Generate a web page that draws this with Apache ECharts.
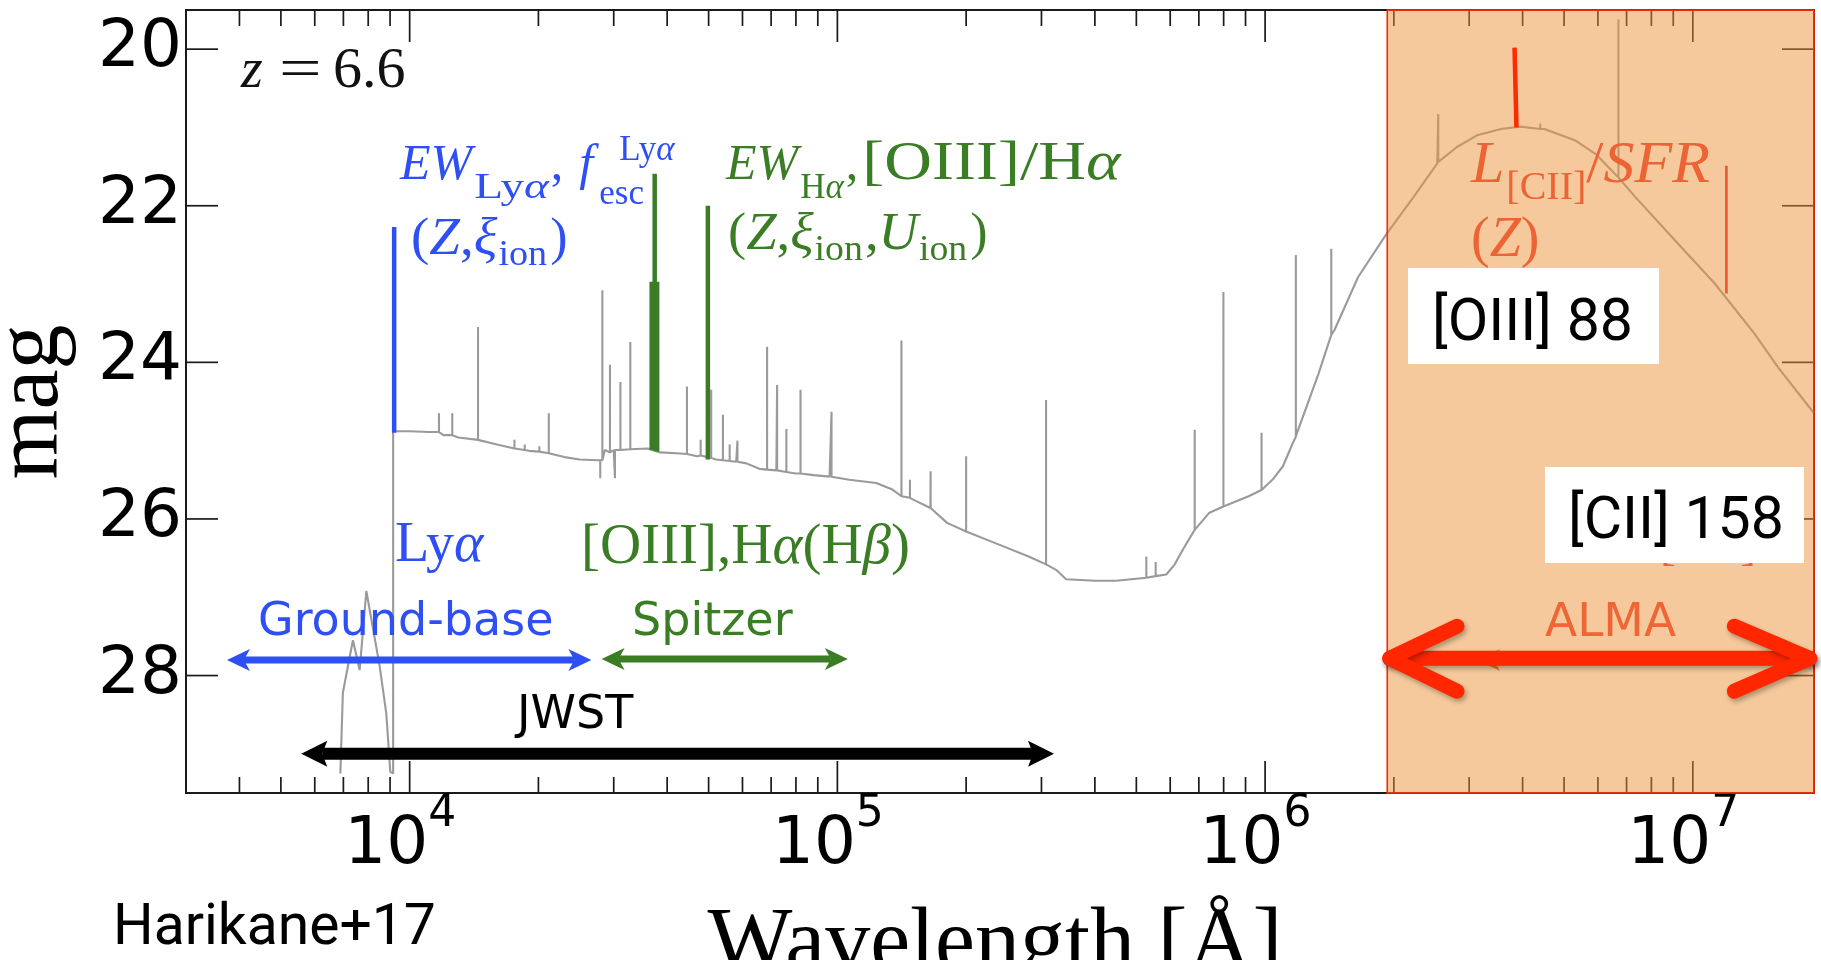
<!DOCTYPE html>
<html>
<head>
<meta charset="utf-8">
<script src="https://cdn.jsdelivr.net/npm/echarts@6/dist/echarts.min.js"></script>
<style>
html, body { margin: 0; padding: 0; background: #fff; }
#chart { width: 1821px; height: 960px; }
</style>
</head>
<body>
<div id="chart"></div>
<script>
// ---- axis ranges (wavelength in Angstrom, AB magnitude) ----
const lamMin = 3000, lamMax = 1.92e7;
const magMin = 19.5, magMax = 29.5;
const xMajorTicks = [1e4, 1e5, 1e6, 1e7];
const xMinorTicks = [4e3, 5e3, 6e3, 7e3, 8e3, 9e3,
  2e4, 3e4, 4e4, 5e4, 6e4, 7e4, 8e4, 9e4,
  2e5, 3e5, 4e5, 5e5, 6e5, 7e5, 8e5, 9e5,
  2e6, 3e6, 4e6, 5e6, 6e6, 7e6, 8e6, 9e6];
const yTicks = [20, 22, 24, 26, 28];

// ---- model SED at z = 6.6: continuum ----
const contLam = [6887, 6980, 7368, 7640, 7920, 8510, 8820, 9010, 9150, 9150,
  9200, 10000, 11100, 12000, 13000, 14450, 16000, 17580, 19000, 21150, 23000, 24970, 27500,
  28600, 30000, 33000, 36000, 38500, 42000, 47000, 52000, 58000, 61300, 65700, 72000, 80000,
  88000, 95900, 106600, 123300, 134000, 141200, 150000, 165000, 180500, 200000, 244500, 280000,
  307500, 324600, 342600, 400000, 448800, 527600, 587500, 615000, 642500, 684500, 741000,
  799000, 915000, 981000, 1040000, 1100000, 1161000, 1186000, 1334000, 1452000, 1650000,
  1923000, 2223000, 2527000, 2810000, 3128000, 3560000, 3950000, 4500000, 5330000, 5930000,
  6700000, 7340000, 9080000, 1.124e7, 1.21e7, 1.392e7, 1.581e7, 1.92e7];
const contMag = [29.25, 28.22, 27.55, 27.93, 26.92, 27.88, 28.49, 29.23, 29.25, 24.88,
  24.88, 24.88, 24.89, 24.93, 24.96, 24.99, 25.05, 25.10, 25.13, 25.16, 25.21, 25.24, 25.25,
  25.12, 25.12, 25.10, 25.10, 25.15, 25.16, 25.20, 25.24, 25.27, 25.29, 25.36, 25.38, 25.42,
  25.44, 25.46, 25.50, 25.54, 25.62, 25.71, 25.75, 25.86, 26.05, 26.16, 26.35, 26.48,
  26.58, 26.65, 26.77, 26.79, 26.79, 26.75, 26.71, 26.58, 26.39, 26.14, 25.92,
  25.84, 25.71, 25.63, 25.50, 25.33, 25.03, 24.91, 24.14, 23.59, 22.91,
  22.36, 21.89, 21.46, 21.25, 21.10, 21.02, 20.99, 21.02, 21.17, 21.34,
  21.64, 21.89, 22.44, 22.99, 23.21, 23.63, 24.06, 24.65];

// ---- nebular emission lines on top of the continuum ----
const lineLam = [11710, 12580, 14450, 17580, 18580, 20100, 21150, 27900, 28220, 29400, 30200,
  31100, 32800, 44500, 47900, 50700, 54000, 56000, 58400, 68500, 72300, 76000, 82000, 96900,
  141200, 147800, 165200, 200000, 307500, 527600, 554900, 684500, 799000, 981000, 1180000,
  1428000, 2540000, 4400000, 6700000];
const lineBase = [24.89, 24.93, 24.99, 25.10, 25.12, 25.14, 25.16, 25.25, 25.25, 25.15, 25.12,
  25.12, 25.11, 25.17, 25.19, 25.22, 25.25, 25.26, 25.27, 25.37, 25.38, 25.40, 25.42, 25.46,
  25.71, 25.73, 25.86, 26.16, 26.58, 26.75, 26.73, 26.14, 25.84, 25.63, 24.95,
  23.65, 21.44, 21.02, 21.64];
const lineTop = [24.65, 24.65, 23.55, 24.99, 25.05, 25.07, 24.65, 25.48, 23.08, 24.03, 25.48,
  24.25, 23.74, 24.31, 24.99, 24.35, 24.67, 25.05, 25.00, 23.80, 24.29, 24.85, 24.35, 24.63,
  23.72, 25.50, 25.39, 25.20, 24.48, 26.48, 26.55, 24.86, 23.10, 24.90, 22.63,
  22.55, 20.83, 20.95, 19.62];

// ---- highlighted lines ----
const lyaLam = [9200], lyaTop = [22.27], lyaBottom = [24.90];
const optLam = [36800, 37400, 37900, 49800];
const optTop = [22.97, 21.59, 22.97, 22.00];
const optBottom = [25.12, 25.13, 25.14, 25.24];
const oiii52Lam = [3.83e6], oiii52LamEnd = [3.87e6], oiii52Top = [19.98], oiii52Bottom = [21.00];
const ciiLam = [1.198e7], ciiTop = [21.49], ciiBottom = [23.12];

// ---- wavelength coverage of facilities ----
const groundRange = [3740, 26600], groundMag = 27.80;
const spitzerRange = [28100, 105800], spitzerMag = 27.79;
const jwstRange = [5580, 321000], jwstMag = 29.00;
const almaThinRange = [3.13e6, 1.92e7], almaThinMag = 27.80;
const almaBand = [1.93e6, 1.92e7];
const almaArrow = [1.956e6, 1.877e7], almaArrowMag = 27.78;
const almaArms = [2.81e6, 1.25e7], almaArmMags = [27.37, 28.20];

// ---- colours ----
const BLUE = '#2d4ff4', GREEN = '#3a7d24', ORANGE = '#ec6436', RED = '#ff2a00', GRAY = '#9a9a9a';

function buildSpectrum() {
  const items = [];
  contLam.forEach((l, i) => items.push({ l, k: 0, pts: [[l, contMag[i]]], i }));
  lineLam.forEach((l, i) => items.push({ l, k: 1, pts: [[l, lineBase[i]], [l, lineTop[i]], [l, lineBase[i]]], i }));
  items.sort((a, b) => a.l - b.l || a.k - b.k || a.i - b.i);
  return items.flatMap(it => it.pts);
}

function segmentSeries(lam1, mag1, lam2, mag2, color, width, z) {
  return {
    type: 'custom', z, silent: true, animation: false,
    data: lam1.map((l, i) => [l, mag1[i], lam2[i], mag2[i]]),
    encode: { x: [0, 2], y: [1, 3] },
    renderItem(params, api) {
      const a = api.coord([api.value(0), api.value(1)]);
      const b = api.coord([api.value(2), api.value(3)]);
      return { type: 'line', shape: { x1: a[0], y1: a[1], x2: b[0], y2: b[1] },
        style: { stroke: color, lineWidth: width, lineCap: 'butt' } };
    }
  };
}

function arrowSeries(range, mag, color, shaftW, headL, headW, notch, z) {
  return {
    type: 'custom', z, silent: true, animation: false,
    data: [[range[0], range[1], mag]],
    encode: { x: [0, 1], y: 2 },
    renderItem(params, api) {
      const a = api.coord([api.value(0), api.value(2)]);
      const b = api.coord([api.value(1), api.value(2)]);
      const y = a[1];
      return { type: 'group', children: [
        { type: 'line', shape: { x1: a[0] + headL - notch, y1: y, x2: b[0] - headL + notch, y2: y },
          style: { stroke: color, lineWidth: shaftW } },
        { type: 'polygon', shape: { points: [[a[0], y], [a[0] + headL, y - headW], [a[0] + headL - notch, y], [a[0] + headL, y + headW]] },
          style: { fill: color } },
        { type: 'polygon', shape: { points: [[b[0], y], [b[0] - headL, y - headW], [b[0] - headL + notch, y], [b[0] - headL, y + headW]] },
          style: { fill: color } }
      ] };
    }
  };
}

function tickSeries(values, len, isX) {
  return {
    type: 'custom', z: 1, silent: true, animation: false,
    data: values.map(v => isX ? [v, magMax] : [lamMin, v]),
    encode: { x: 0, y: 1 },
    renderItem(params, api) {
      const st = { stroke: '#1a1a1a', lineWidth: 1.7 };
      if (isX) {
        const b = api.coord([api.value(0), magMax]);
        const t = api.coord([api.value(0), magMin]);
        return { type: 'group', children: [
          { type: 'line', shape: { x1: b[0], y1: b[1], x2: b[0], y2: b[1] - len }, style: st },
          { type: 'line', shape: { x1: t[0], y1: t[1], x2: t[0], y2: t[1] + len }, style: st }
        ] };
      }
      const l = api.coord([lamMin, api.value(1)]);
      const r = api.coord([lamMax, api.value(1)]);
      return { type: 'group', children: [
        { type: 'line', shape: { x1: l[0], y1: l[1], x2: l[0] + len, y2: l[1] }, style: st },
        { type: 'line', shape: { x1: r[0], y1: r[1], x2: r[0] - len, y2: r[1] }, style: st }
      ] };
    }
  };
}

// ---- text helpers ----
const mctx = document.createElement('canvas').getContext('2d');
function measure(t, size, family, italic) {
  mctx.font = (italic ? 'italic ' : '') + size + 'px "' + family + '"';
  return mctx.measureText(t).width;
}
// runs of mixed roman/italic pieces with sub/superscripts, laid out from a baseline
function mathText(x0, base, color, parts, family, z) {
  family = family || 'Liberation Serif';
  const els = [];
  let cur = x0, prevStart = x0;
  parts.forEach(p => {
    const size = p.size, dy = p.dy || 0, sx = p.sx || 1;
    const start = p.stack ? prevStart + (p.gap || 0) : (p.at !== undefined ? p.at : cur + (p.gap || 0));
    let w = 0, txt = '';
    p.s.forEach(([t, it]) => { w += measure(t, size, family, it); txt += '{' + (it ? 'i' : 'n') + '|' + t + '}'; });
    const common = { fontSize: size, fontFamily: family, fill: color };
    els.push({ type: 'text', x: start, y: base + dy - 0.305 * size, z: z || 30, silent: true,
      scaleX: sx, originX: 0,
      style: { text: txt, align: 'left', verticalAlign: 'middle',
        rich: { n: Object.assign({ fontStyle: 'normal' }, common), i: Object.assign({ fontStyle: 'italic' }, common) } } });
    const end = start + w * sx;
    cur = p.stack ? Math.max(cur, end) : end;
    if (!p.stack) prevStart = start;
  });
  return els;
}
function plainText(text, x, y, size, family, color, opts) {
  opts = opts || {};
  return { type: 'text', x, y, z: opts.z || 30, silent: true, rotation: opts.rotation || 0,
    style: { text, fontSize: size, fontFamily: family, fill: color, fontStyle: opts.italic ? 'italic' : 'normal',
      align: opts.align || 'left', verticalAlign: 'middle' } };
}

const graphics = [].concat(
  mathText(241, 89, '#111', [
    { s: [['z', 1]], size: 56 },
    { s: [['=', 0]], size: 56, at: 279, sx: 1.35 },
    { s: [['6.6', 0]], size: 58, at: 333 }
  ]),
  mathText(400, 181, BLUE, [
    { s: [['EW', 1]], size: 50 },
    { s: [['Ly', 0], ['α', 1]], size: 35, dy: 18, gap: 2, sx: 1.35 },
    { s: [[',', 0]], size: 50, gap: 2 },
    { s: [['f', 1]], size: 50, gap: 16 },
    { s: [['esc', 0]], size: 35, dy: 24, gap: 6 },
    { s: [['Ly', 0], ['α', 1]], size: 35, dy: -20, stack: true, gap: 20 }
  ]),
  mathText(411, 256, BLUE, [
    { s: [['(', 0], ['Z', 1], [',', 0], ['ξ', 1]], size: 52, sx: 1.06 },
    { s: [['ion', 0]], size: 36, dy: 11, gap: 1, sx: 1.06 },
    { s: [[')', 0]], size: 52, gap: 3 }
  ]),
  mathText(726, 181, GREEN, [
    { s: [['EW', 1]], size: 50 },
    { s: [['H', 0], ['α', 1]], size: 35, dy: 18, gap: 2 },
    { s: [[',', 0]], size: 50, gap: 2 },
    { s: [['[OIII]/H', 0], ['α', 1]], size: 55, gap: 4, sx: 1.2 }
  ]),
  mathText(728, 251, GREEN, [
    { s: [['(', 0], ['Z', 1], [',', 0], ['ξ', 1]], size: 52, sx: 1.05 },
    { s: [['ion', 0]], size: 36, dy: 11, gap: 1, sx: 1.05 },
    { s: [[',', 0], ['U', 1]], size: 52, gap: 2, sx: 1.05 },
    { s: [['ion', 0]], size: 36, dy: 11, gap: 1, sx: 1.05 },
    { s: [[')', 0]], size: 52, gap: 3 }
  ]),
  mathText(395, 563, BLUE, [{ s: [['Ly', 0], ['α', 1]], size: 56 }]),
  mathText(581, 565, GREEN, [{ s: [['[OIII],H', 0], ['α', 1], ['(H', 0], ['β', 1], [')', 0]], size: 57 }]),
  mathText(1471, 185, ORANGE, [
    { s: [['L', 1]], size: 60 },
    { s: [['[CII]', 0]], size: 40, dy: 16, gap: 2 },
    { s: [['/', 0], ['SFR', 1]], size: 60, sx: 1.03 }
  ]),
  mathText(1471, 258, ORANGE, [{ s: [['(', 0], ['Z', 1], [')', 0]], size: 56 }]),
  mathText(1660, 561, ORANGE, [{ s: [['[CII]', 0]], size: 48 }]),
  [
    plainText('Ground-base', 258, 623, 46, 'DejaVu Sans', BLUE),
    plainText('Spitzer', 632, 623, 46, 'DejaVu Sans', GREEN),
    plainText('JWST', 517, 716, 46, 'DejaVu Sans', '#000'),
    plainText('ALMA', 1545, 624, 47, 'DejaVu Sans', '#ee6636'),
    plainText('mag', 33, 402, 90, 'Liberation Serif', '#000', { rotation: Math.PI / 2, align: 'center' }),
    plainText('Wavelength [Å]', 995, 946, 90, 'Liberation Serif', '#000', { align: 'center' }),
    plainText('Harikane+17', 113, 930, 57, 'Roboto', '#000'),
    { type: 'rect', z: 40, silent: true, shape: { x: 1408, y: 268, width: 251, height: 96 }, style: { fill: '#fff' } },
    plainText('[OIII] 88', 1432, 325, 59, 'Roboto', '#000', { z: 41 }),
    { type: 'rect', z: 40, silent: true, shape: { x: 1545, y: 467, width: 259, height: 96 }, style: { fill: '#fff' } },
    plainText('[CII] 158', 1568, 523, 59, 'Roboto', '#000', { z: 41 })
  ]
);

const chart = echarts.init(document.getElementById('chart'), null, { renderer: 'canvas' });
chart.setOption({
  animation: false,
  backgroundColor: '#fff',
  grid: { left: 186, right: 7, top: 10, bottom: 167, show: true, borderColor: '#1a1a1a', borderWidth: 2, backgroundColor: 'transparent' },
  xAxis: {
    type: 'log', logBase: 10, min: lamMin, max: lamMax,
    axisLine: { show: false }, axisTick: { show: false }, splitLine: { show: false }, minorTick: { show: false },
    axisLabel: {
      margin: 0, hideOverlap: false, showMinLabel: false, showMaxLabel: false,
      formatter(v) {
        const e = Math.log10(v);
        if (Math.abs(e - Math.round(e)) > 1e-6) return '';
        return '{b|10}{s|' + Math.round(e) + '}';
      },
      rich: {
        b: { fontFamily: 'DejaVu Sans', fontSize: 66, lineHeight: 106, color: '#000' },
        s: { fontFamily: 'DejaVu Sans', fontSize: 44, lineHeight: 44, verticalAlign: 'top', color: '#000', padding: [0, 19, 0, 0] }
      }
    }
  },
  yAxis: {
    type: 'value', inverse: true, min: magMin, max: magMax, interval: 0.5,
    axisLine: { show: false }, axisTick: { show: false }, splitLine: { show: false },
    axisLabel: {
      interval: 0, margin: 4, hideOverlap: false, fontFamily: 'DejaVu Sans', fontSize: 66, color: '#000',
      formatter(v) { return (Math.abs(v - Math.round(v)) < 1e-6 && Math.round(v) % 2 === 0) ? String(Math.round(v)) : ''; }
    }
  },
  graphic: { elements: graphics },
  series: [
    tickSeries(xMajorTicks, 32, true),
    tickSeries(xMinorTicks, 16, true),
    tickSeries(yTicks, 32, false),
    {
      type: 'line', z: 2, silent: true, animation: false, showSymbol: false, symbol: 'none', clip: true,
      data: buildSpectrum(),
      lineStyle: { color: GRAY, width: 2.1 }
    },
    segmentSeries(lyaLam, lyaTop, lyaLam, lyaBottom, BLUE, 4.5, 3),
    segmentSeries(optLam, optTop, optLam, optBottom, GREEN, 4.5, 3),
    arrowSeries(groundRange, groundMag, BLUE, 7, 23, 11, 6, 3),
    arrowSeries(spitzerRange, spitzerMag, GREEN, 7, 23, 11, 6, 3),
    arrowSeries(jwstRange, jwstMag, '#000', 12, 26, 13, 5, 3),
    arrowSeries(almaThinRange, almaThinMag, '#f05a24', 7, 23, 11, 6, 3),
    {
      // ALMA coverage band
      type: 'custom', z: 5, silent: true, animation: false,
      data: [[almaBand[0], almaBand[1], magMin, magMax]],
      encode: { x: [0, 1], y: [2, 3] },
      renderItem(params, api) {
        const tl = api.coord([api.value(0), api.value(2)]);
        const br = api.coord([api.value(1), api.value(3)]);
        return { type: 'rect', shape: { x: tl[0], y: tl[1], width: br[0] - tl[0], height: br[1] - tl[1] },
          style: { fill: 'rgba(235,147,55,0.5)', stroke: RED, lineWidth: 1.6 } };
      }
    },
    segmentSeries(ciiLam, ciiTop, ciiLam, ciiBottom, '#e9572f', 2.6, 6),
    segmentSeries(oiii52Lam, oiii52Top, oiii52LamEnd, oiii52Bottom, RED, 4.5, 6),
    {
      // ALMA double arrow
      type: 'custom', z: 6, silent: true, animation: false,
      data: [[almaArrow[0], almaArrow[1], almaArrowMag, almaArms[0], almaArms[1], almaArmMags[0], almaArmMags[1]]],
      encode: { x: [0, 1, 3, 4], y: [2, 5, 6] },
      renderItem(params, api) {
        const tl = api.coord([api.value(0), api.value(2)]);
        const tr = api.coord([api.value(1), api.value(2)]);
        const al1 = api.coord([api.value(3), api.value(5)]);
        const al2 = api.coord([api.value(3), api.value(6)]);
        const ar1 = api.coord([api.value(4), api.value(5)]);
        const ar2 = api.coord([api.value(4), api.value(6)]);
        const st = { stroke: '#ff2600', lineWidth: 15, lineCap: 'round', lineJoin: 'round', fill: null,
          shadowBlur: 5, shadowColor: 'rgba(0,0,0,0.3)', shadowOffsetX: 2, shadowOffsetY: 3 };
        return { type: 'group', children: [
          { type: 'line', shape: { x1: tl[0], y1: tl[1], x2: tr[0], y2: tr[1] }, style: st },
          { type: 'polyline', shape: { points: [al1, tl, al2] }, style: st },
          { type: 'polyline', shape: { points: [ar1, tr, ar2] }, style: st }
        ] };
      }
    }
  ]
});
</script>
</body>
</html>
